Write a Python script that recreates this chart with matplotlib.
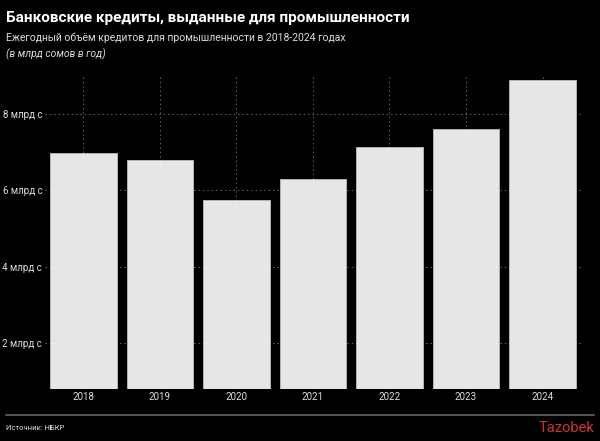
import matplotlib
matplotlib.use("Agg")
import matplotlib.pyplot as plt
from matplotlib.lines import Line2D

# Данные: кредиты промышленности, млрд сомов
years = ["2018", "2019", "2020", "2021", "2022", "2023", "2024"]
loans = [6.98, 6.80, 5.75, 6.30, 7.14, 7.61, 8.89]
ytick_vals = [2, 4, 6, 8]
ytick_labels = ["2 млрд с", "4 млрд с", "6 млрд с", "8 млрд с"]

plt.rcParams['font.family'] = ['Roboto', 'DejaVu Sans']

fig = plt.figure(figsize=(6, 4.41), dpi=100, facecolor='black')
ax = fig.add_axes([0.075, 0.118, 0.893, 0.712])
ax.set_facecolor('black')

x = range(len(years))
ax.bar(x, loans, width=0.87, bottom=0, color='#e6e6e6',
       edgecolor='#bdbdbd', linewidth=0.6, zorder=2)

ax.set_xlim(-0.5, len(years) - 0.5)
ax.set_ylim(0.8, 9.02)

ax.set_xticks(list(x))
ax.set_xticklabels(years, color='#dddddd', fontsize=7)
ax.set_yticks(ytick_vals)
ax.set_yticklabels(ytick_labels, color='#dddddd', fontsize=7)
ax.tick_params(length=0, pad=2)

# сетка пунктиром поверх столбцов
ax.grid(True, color='white', alpha=0.4, linestyle=(0, (1.5, 3)), linewidth=0.7, zorder=3)
ax.set_axisbelow(False)
for s in ax.spines.values():
    s.set_visible(False)

# заголовки
fig.text(0.01, 0.960, "Банковские кредиты, выданные для промышленности",
         color='white', fontsize=11, fontweight='bold', va='center')
fig.text(0.01, 0.914, "Ежегодный объём кредитов для промышленности в 2018-2024 годах",
         color='#dddddd', fontsize=7.5, va='center')
fig.text(0.01, 0.876, "(в млрд сомов в год)", color='#dddddd', fontsize=7.5,
         style='italic', va='center')

# нижняя линия и подписи
fig.add_artist(Line2D([0.01, 0.99], [0.059, 0.059], color='#666666', linewidth=1.2,
                      transform=fig.transFigure))
fig.text(0.01, 0.030, "Источник: НБКР", color='#dddddd', fontsize=5.5, va='center')
fig.text(0.99, 0.030, "Tazobek", color='#c9352f', fontsize=10.5, va='center', ha='right')

fig.savefig("out.png", dpi=100, facecolor='black')
